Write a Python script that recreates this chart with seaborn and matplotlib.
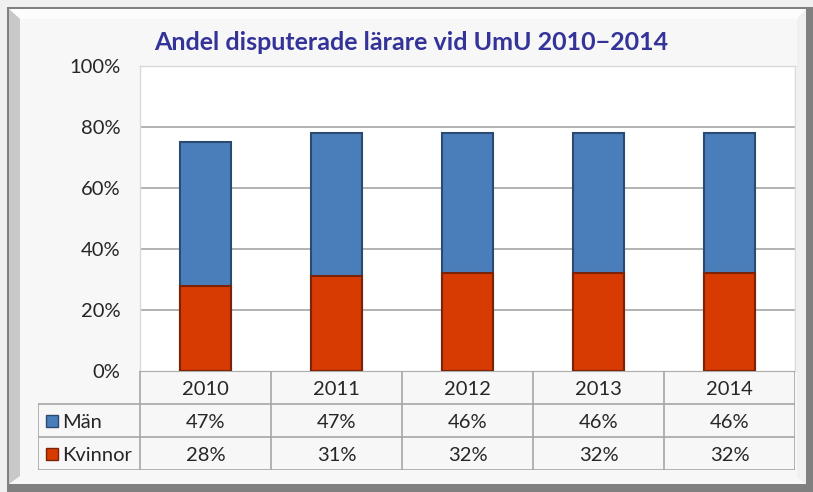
import numpy as np
import pandas as pd
import matplotlib
matplotlib.use('Agg')
import matplotlib.pyplot as plt
import seaborn as sns
from matplotlib.patches import Rectangle, Polygon

years = ['2010', '2011', '2012', '2013', '2014']
man = [47, 47, 46, 46, 46]
kvinnor = [28, 31, 32, 32, 32]
series_names = ['Män', 'Kvinnor']
title = 'Andel disputerade lärare vid UmU 2010\u22122014'

blue, blue_edge = '#4a7ebb', '#2b4a70'
red, red_edge = '#d73b02', '#7a2308'
grid_col = '#a6a6a6'
font = 'Lato'
fs = 14.5

W, H = 813, 492
sns.set_theme(style='white')
plt.rcParams['font.family'] = [font, 'DejaVu Sans']

fig = plt.figure(figsize=(W / 100, H / 100), dpi=100)
fig.patch.set_facecolor('#f0f0f0')


def px(x0, y0, x1, y1):
    # pixel box (top-left origin) -> figure fraction rect
    return [x0 / W, 1 - y1 / H, (x1 - x0) / W, (y1 - y0) / H]


def fpoly(pts, color):
    fig.patches.append(Polygon([(x / W, 1 - y / H) for x, y in pts], closed=True,
                               transform=fig.transFigure, facecolor=color,
                               edgecolor='none', zorder=-5))


# frame with bevel + shadow
fpoly([(7, 7), (813, 7), (813, 492), (7, 492)], '#808080')
fpoly([(9, 9), (806, 9), (806, 484), (9, 484)], '#f7f7f7')
fpoly([(9, 9), (806, 9), (797, 19), (20, 19)], '#fdfdfd')
fpoly([(9, 9), (20, 19), (20, 476), (9, 484)], '#c8c8c8')
fpoly([(806, 9), (806, 484), (797, 476), (797, 19)], '#f0f0f0')
fpoly([(806, 18), (813, 18), (813, 492), (806, 492)], '#808080')
fpoly([(9, 484), (813, 484), (813, 492), (20, 492), ], '#808080')

fig.text(411 / W, 1 - 42 / H, title, ha='center', va='center',
         fontsize=18, fontweight='bold', color='#333399')

# bars
ax = fig.add_axes(px(140, 66, 795, 371))
ax.set_facecolor('white')
df = pd.DataFrame({'year': years, 'Män': man, 'Kvinnor': kvinnor})
df['total'] = df['Män'] + df['Kvinnor']
sns.barplot(data=df, x='year', y='total', color=blue, saturation=1, width=0.39,
            edgecolor=blue_edge, linewidth=1.5, ax=ax, zorder=3)
sns.barplot(data=df, x='year', y='Kvinnor', color=red, saturation=1, width=0.39,
            edgecolor=red_edge, linewidth=1.5, ax=ax, zorder=4)
ax.set_ylim(0, 100)
ax.set_xlim(-0.5, 4.5)
ax.set_yticks(np.arange(0, 101, 20))
ax.set_yticklabels([f'{v}%' for v in range(0, 101, 20)], fontsize=fs)
ax.tick_params(axis='y', length=0, pad=14)
ax.set_xticks([])
ax.set_xlabel('')
ax.set_ylabel('')
for v in range(20, 101, 20):
    ax.axhline(v, color=grid_col, lw=1.2, zorder=1)
for s in ax.spines.values():
    s.set_color('#d9d9d9')
    s.set_linewidth(1)

# data table
tx = fig.add_axes(px(38, 371, 795, 470))
left = -0.5 - (140 - 38) / 131
tx.set_xlim(left, 4.5)
tx.set_ylim(3, 0)
tx.axis('off')
line_kw = dict(color=grid_col, lw=1.2)
tx.plot([-0.5, 4.5], [0, 0], **line_kw)
for yy in [1, 2, 3]:
    tx.plot([left, 4.5], [yy, yy], **line_kw)
for i in range(6):
    tx.plot([i - 0.5, i - 0.5], [0, 3], **line_kw)
tx.plot([left, left], [1, 3], **line_kw)
for i, y in enumerate(years):
    tx.text(i, 0.55, y, ha='center', va='center', fontsize=fs)
rows = [man, kvinnor]
colors = [(blue, blue_edge), (red, red_edge)]
for r, (name, vals) in enumerate(zip(series_names, rows)):
    yc = r + 1.5
    for i, v in enumerate(vals):
        tx.text(i, yc + 0.05, f'{v}%', ha='center', va='center', fontsize=fs)
    fc, ec = colors[r]
    fig.patches.append(Rectangle((46 / W, 1 - (yc * 33 + 371 + 6) / H), 12 / W, 12 / H,
                                 transform=fig.transFigure, facecolor=fc,
                                 edgecolor=ec, lw=1, zorder=5))
    tx.text(left + 24 / 131, yc + 0.05, name, ha='left', va='center', fontsize=fs)

fig.savefig('out.png', dpi=100, facecolor=fig.get_facecolor())
